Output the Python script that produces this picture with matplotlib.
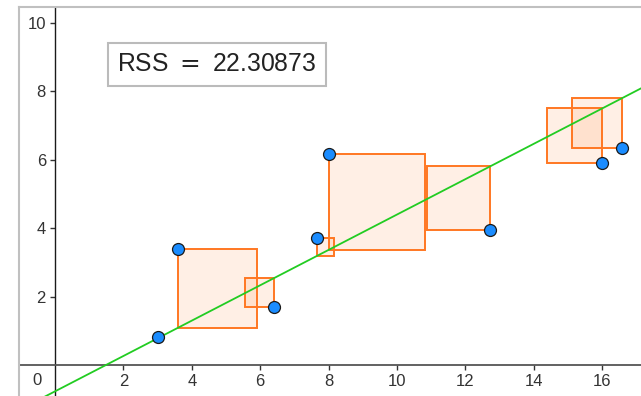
import matplotlib.pyplot as plt
from matplotlib.lines import Line2D
from matplotlib.patches import Rectangle

plt.rcParams['font.family'] = ['Liberation Sans', 'DejaVu Sans']

# data points
x_pts = [3.02, 3.60, 6.40, 7.65, 8.01, 12.72, 16.00, 16.58]
y_pts = [0.82, 3.39, 1.70, 3.70, 6.17, 3.95, 5.90, 6.35]

# fitted line y = a + b x
a_fit = -0.77
b_fit = 0.517

rss_label = "RSS $=$ 22.30873"
x_ticks = [2, 4, 6, 8, 10, 12, 14, 16]
y_ticks = [2, 4, 6, 8, 10]

fig = plt.figure(figsize=(6.41, 3.96), dpi=100)
ax = fig.add_axes([19 / 641, 0, 622 / 641, 389 / 396])
ax.set_xlim(-1.053, 17.135)
ax.set_ylim(-0.906, 10.468)

# axes through the origin
for side in ("right", "top"):
    ax.spines[side].set_visible(False)
ax.spines["left"].set_position(("data", 0))
ax.spines["bottom"].set_position(("data", 0))
ax.spines["left"].set_color("#1a1a1a")
ax.spines["bottom"].set_color("#555555")
ax.spines["left"].set_linewidth(1.0)
ax.spines["bottom"].set_linewidth(1.3)
ax.set_xticks(x_ticks)
ax.set_yticks(y_ticks)
ax.tick_params(direction="out", length=3.5, width=1.0, color="#333333",
               labelsize=12, labelcolor="#333333", pad=3)
ax.text(-0.4, -0.45, "0", fontsize=12, color="#333333", ha="right", va="center")

# residual squares
for xi, yi in zip(x_pts, y_pts):
    r = yi - (a_fit + b_fit * xi)
    x0 = min(xi, xi + r)
    y0 = min(yi, yi - r)
    ax.add_patch(Rectangle((x0, y0), abs(r), abs(r), facecolor="#ff7f2a",
                           alpha=0.12, edgecolor="none", zorder=2))
    ax.add_patch(Rectangle((x0, y0), abs(r), abs(r), facecolor="none",
                           edgecolor="#ff7722", linewidth=1.4, zorder=3))

# regression line
xs = [-2, 18]
ax.plot(xs, [a_fit + b_fit * v for v in xs], color="#22cc22", linewidth=1.3, zorder=4)

# points
ax.plot(x_pts, y_pts, "o", markersize=8.6, markerfacecolor="#1a8cff",
        markeredgecolor="#1a1a1a", markeredgewidth=0.9, zorder=5, clip_on=False)

ax.text(1.81, 8.79, rss_label, fontsize=17.8, color="#222222", va="center", ha="left",
        bbox=dict(boxstyle="square,pad=0.38", facecolor="white", edgecolor="#bbbbbb",
                  linewidth=1.5))

# graphics view border (left and top)
fig.add_artist(Line2D([19 / 641, 19 / 641], [0, 389 / 396], color="#c0c0c0",
                      linewidth=1.5, transform=fig.transFigure))
fig.add_artist(Line2D([19 / 641, 1], [389 / 396, 389 / 396], color="#c0c0c0",
                      linewidth=1.5, transform=fig.transFigure))

fig.savefig("out.png", dpi=100)
